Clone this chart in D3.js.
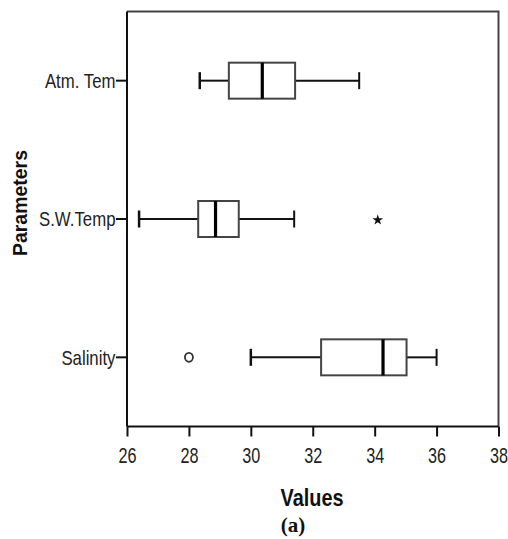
<!DOCTYPE html>
<html>
<head>
<meta charset="utf-8">
<script src="https://cdn.jsdelivr.net/npm/d3@7"></script>
<style>
  html, body { margin: 0; padding: 0; background: #fff; }
  svg { display: block; }
</style>
</head>
<body>
<svg id="chart" width="508" height="539"></svg>
<script>
// ---- data ----
const categories = ["Atm. Tem", "S.W.Temp", "Salinity"];
const whiskerLow  = [28.35, 26.39, 30.0];
const q1          = [29.29, 28.30, 32.27];
const medians     = [30.37, 28.86, 34.27];
const q3          = [31.43, 29.61, 35.03];
const whiskerHigh = [33.50, 31.40, 36.0];
const outlierCategory = ["S.W.Temp", "Salinity"];
const outlierValue    = [34.1, 28.0];
const outlierKind     = ["extreme", "mild"];
const xTicks = [26, 28, 30, 32, 34, 36, 38];
const xLabel = "Values";
const yLabel = "Parameters";
const caption = "(a)";

(function () {
// ---- layout ----
const svg = d3.select("#chart");
const pL = 127, pR = 498.5, pT = 11.5, pB = 426.5;

const x = d3.scaleLinear().domain([26, 38]).range([pL, pR]);
const y = d3.scaleBand().domain(categories).range([pT, pB]).padding(0);
const yc = c => y(c) + y.bandwidth() / 2;

// frame (top and right)
svg.append("path")
  .attr("d", `M${pL},${pT}H${pR}V${pB}`)
  .attr("fill", "none").attr("stroke", "#444").attr("stroke-width", 2);

// x axis
const sxTick = 0.72;
const gx = svg.append("g").attr("transform", `translate(0,${pB})`)
  .call(d3.axisBottom(x).tickValues(xTicks).tickSize(10).tickSizeOuter(0).tickFormat(d3.format("d")));
gx.select(".domain").attr("stroke", "#111").attr("stroke-width", 2)
  .attr("d", `M${pL},0H${pR}`);
gx.selectAll(".tick line").attr("stroke", "#111").attr("stroke-width", 2);
gx.selectAll(".tick text")
  .attr("font-family", "Liberation Sans, Arial, sans-serif")
  .attr("font-size", 22.5).attr("fill", "#222")
  .attr("y", 20.5).attr("dy", "0.71em")
  .attr("transform", `scale(${sxTick},1)`);

// y axis
const syTick = 0.84;
const gy = svg.append("g").attr("transform", `translate(${pL},0)`)
  .call(d3.axisLeft(y).tickSize(11).tickSizeOuter(0));
gy.select(".domain").attr("stroke", "#111").attr("stroke-width", 2)
  .attr("d", `M0,${pT}V${pB}`);
gy.selectAll(".tick line").attr("stroke", "#111").attr("stroke-width", 2);
gy.selectAll(".tick text")
  .attr("font-family", "Liberation Sans, Arial, sans-serif")
  .attr("font-size", 20).attr("fill", "#222")
  .attr("x", -11.5 / syTick).attr("dy", "0.36em")
  .attr("transform", `scale(${syTick},1)`);

// boxes
const boxH = 36, capH = 17;
const rows = categories.map((c, i) => ({
  c, lo: whiskerLow[i], q1: q1[i], med: medians[i], q3: q3[i], hi: whiskerHigh[i]
}));
const g = svg.append("g");
rows.forEach(r => {
  const cy = yc(r.c);
  g.append("line").attr("x1", x(r.lo)).attr("x2", x(r.q1)).attr("y1", cy).attr("y2", cy)
    .attr("stroke", "#111").attr("stroke-width", 2);
  g.append("line").attr("x1", x(r.q3)).attr("x2", x(r.hi)).attr("y1", cy).attr("y2", cy)
    .attr("stroke", "#111").attr("stroke-width", 2);
  g.append("line").attr("x1", x(r.lo)).attr("x2", x(r.lo)).attr("y1", cy - capH / 2).attr("y2", cy + capH / 2)
    .attr("stroke", "#111").attr("stroke-width", 2.5);
  g.append("line").attr("x1", x(r.hi)).attr("x2", x(r.hi)).attr("y1", cy - capH / 2).attr("y2", cy + capH / 2)
    .attr("stroke", "#111").attr("stroke-width", 2);
  g.append("rect").attr("x", x(r.q1)).attr("y", cy - boxH / 2)
    .attr("width", x(r.q3) - x(r.q1)).attr("height", boxH)
    .attr("fill", "#fff").attr("stroke", "#444").attr("stroke-width", 2);
  g.append("line").attr("x1", x(r.med)).attr("x2", x(r.med)).attr("y1", cy - boxH / 2).attr("y2", cy + boxH / 2)
    .attr("stroke", "#000").attr("stroke-width", 3.2);
});

// outliers
outlierCategory.forEach((c, i) => {
  const cx = x(outlierValue[i]), cy = yc(c);
  if (outlierKind[i] === "mild") {
    g.append("ellipse").attr("cx", cx).attr("cy", cy).attr("rx", 4).attr("ry", 4.5)
      .attr("fill", "none").attr("stroke", "#333").attr("stroke-width", 1.8);
  } else {
    g.append("path").attr("d", d3.symbol(d3.symbolStar, 36)())
      .attr("transform", `translate(${cx},${cy + 1})`)
      .attr("fill", "#111");
  }
});

// axis titles
svg.append("text").text(xLabel)
  .attr("x", 312).attr("y", 505.5).attr("text-anchor", "middle")
  .attr("font-family", "Liberation Sans, Arial, sans-serif").attr("font-weight", "bold")
  .attr("font-size", 24).attr("fill", "#111")
  .attr("textLength", 63).attr("lengthAdjust", "spacingAndGlyphs");

svg.append("text").text(yLabel)
  .attr("transform", `translate(26.5,203) rotate(-90)`).attr("text-anchor", "middle")
  .attr("font-family", "Liberation Sans, Arial, sans-serif").attr("font-weight", "bold")
  .attr("font-size", 19.5).attr("fill", "#111")
  .attr("textLength", 106).attr("lengthAdjust", "spacingAndGlyphs");

svg.append("text").text(caption)
  .attr("x", 293).attr("y", 532).attr("text-anchor", "middle")
  .style("font-family", "'Liberation Serif', 'DejaVu Serif', serif").attr("font-weight", "bold")
  .attr("font-size", 21).attr("fill", "#111");
})();
</script>
</body>
</html>
